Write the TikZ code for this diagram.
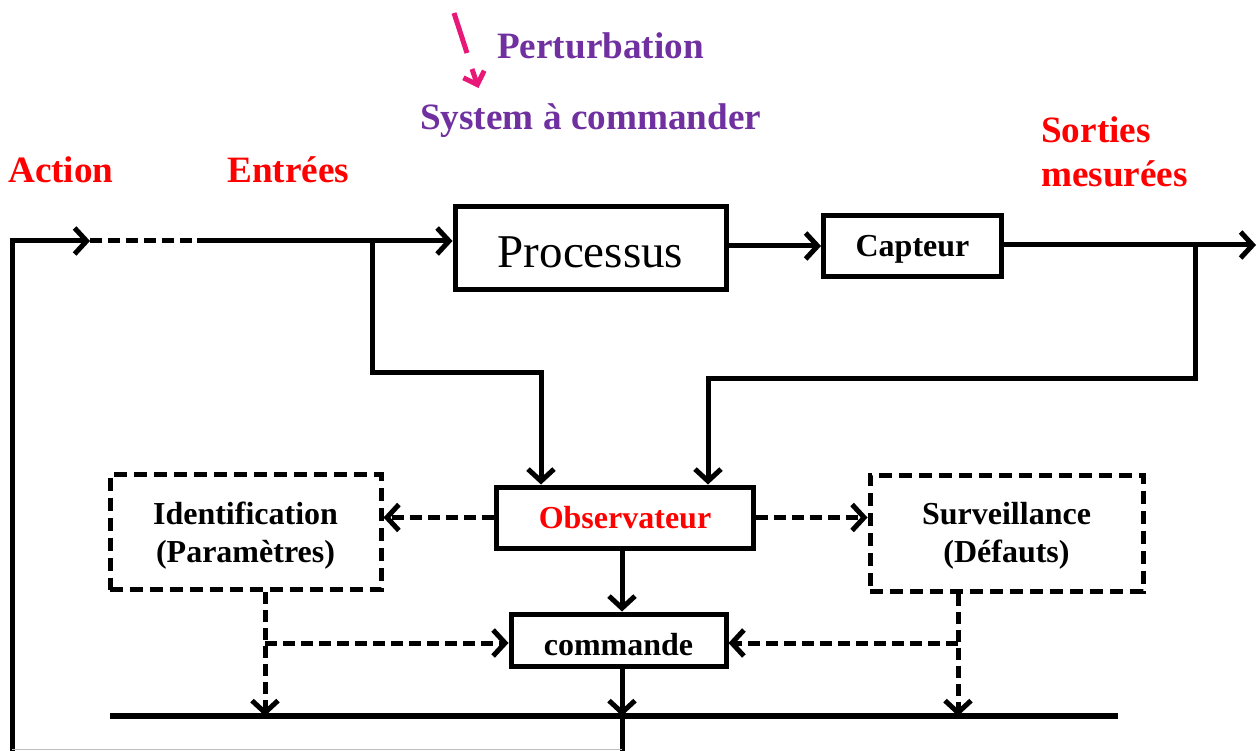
\documentclass[tikz,border=0pt]{standalone}
\usepackage{fontspec}
\setmainfont{Liberation Serif}
\usetikzlibrary{arrows.meta}
\definecolor{myred}{RGB}{255,0,0}
\definecolor{mypurple}{RGB}{112,48,160}
\definecolor{mypink}{RGB}{232,24,120}
\tikzset{
  box/.style={draw, line width=5pt, inner sep=0pt, align=center, font=\bfseries\fontsize{32}{38}\selectfont},
  dbox/.style={box, dash pattern=on 13pt off 7pt},
  btxt/.style={anchor=base, inner sep=0pt, font=\bfseries\fontsize{32}{38}\selectfont},
  ln/.style={line width=5pt},
  arr/.style={ln, -{Straight Barb[length=12pt,width=26pt]}},
  darr/.style={arr, dash pattern=on 12pt off 6pt},
  dln/.style={ln, dash pattern=on 12pt off 6pt},
  lbl/.style={anchor=base west, inner sep=0pt, font=\bfseries\fontsize{37.2}{40}\selectfont},
}
\begin{document}
\begin{tikzpicture}[x=1pt,y=-1pt]
\useasboundingbox (0,0) rectangle (1257,751);

% boxes
\node[box, minimum width=271pt, minimum height=82pt, text height=38pt, text depth=0pt, font=\fontsize{47}{50}\selectfont] (proc) at (590.5,248) {Processus};
\node[box, minimum width=178pt, minimum height=60pt, text height=24pt, text depth=2pt] (capt) at (912.5,246) {Capteur};
\node[box, minimum width=257pt, minimum height=61pt, text=myred] (obs) at (625,517.5) {Observateur};
\node[dbox, minimum width=271pt, minimum height=115pt] (ident) at (245.5,532) {};
\node[dbox, minimum width=273pt, minimum height=116pt] (surv) at (1006.5,533) {};
\node[box, minimum width=215pt, minimum height=52pt, text height=30pt, text depth=0pt] (cmd) at (618.5,640) {commande};

% box texts
\node[btxt] (identa) at (245.5,524) {Identification};
\node[btxt] (identb) at (245.5,562) {(Paramètres)};
\node[btxt] (surva) at (1006.5,524) {Surveillance};
\node[btxt] (survb) at (1006.5,562) {(Défauts)};

% labels
\node[lbl, text=mypurple] (pert) at (497,59) {Perturbation};
\node[lbl, text=mypurple] (sys) at (420,130) {System à commander};
\node[lbl, text=myred] (act) at (8,183) {Action};
\node[lbl, text=myred] (ent) at (227,183) {Entrées};
\node[lbl, text=myred] (sort) at (1041,143) {Sorties};
\node[lbl, text=myred] (mes) at (1041,187) {mesurées};

% perturbation arrow
\coordinate (p0) at (454,13);
\coordinate (p1) at (467,53);
\coordinate (p2) at (472,69);
\coordinate (p3) at (478.5,88);
\draw[mypink, line width=5pt] (p0) -- (p1);
\draw[mypink, line width=5pt, -{Straight Barb[length=11pt,width=22pt]}] (p2) -- (p3);

% coordinates
\coordinate (bl) at (12,751);
\coordinate (tl) at (12,241);
\coordinate (a1) at (90,241);
\coordinate (d2) at (197,241);
\coordinate (b1) at (372,241);
\coordinate (b2) at (372,372);
\coordinate (out) at (1256,245);
\coordinate (c1) at (1195,245);
\coordinate (c2) at (1195,378);
\coordinate (bar1) at (110,716);
\coordinate (bar2) at (1118,716);
\coordinate (cb) at (622,751);
\coordinate (gl) at (12,749.5);
\coordinate (gr) at (622,749.5);

% input line
\draw[arr] (bl) -- (tl) -- (a1);
\draw[dln] (a1) -- (d2);
\draw[arr] (d2) -- (d2 -| proc.west);
\draw[arr] (b1) -- (b2) -| ([xshift=-84pt]obs.north);

% outputs
\draw[arr] (capt.west -| proc.east) -- (capt.west);
\draw[arr] (c1 -| capt.east) -- (out);
\draw[arr] (c1) -- (c2) -| ([xshift=83pt]obs.north);

% observer
\draw[darr] (obs.west) -- (obs.west -| ident.east);
\draw[darr] (obs.east) -- (obs.east -| surv.west);
\draw[arr] ([xshift=-3pt]obs.south) -- ([xshift=-3pt]obs.south |- cmd.north);

% bottom bar
\draw[line width=6pt] (bar1) -- (bar2);
\draw[arr] ([xshift=3.5pt]cmd.south) -- ([xshift=3.5pt]cmd.south |- bar1);
\draw[ln] ([xshift=3.5pt]cmd.south |- bar1) -- (cb);
\draw[gray!50, line width=1.5pt] (gl) -- (gr);

% identification / surveillance
\coordinate (i1) at (265,643);
\coordinate (s1) at (958,643);
\draw[darr] (ident.south -| i1) -- (i1 |- bar1);
\draw[darr] (i1) -- (i1 -| cmd.west);
\draw[darr] (surv.south -| s1) -- (s1 |- bar1);
\draw[darr] (s1) -- (s1 -| cmd.east);
\end{tikzpicture}
\end{document}
